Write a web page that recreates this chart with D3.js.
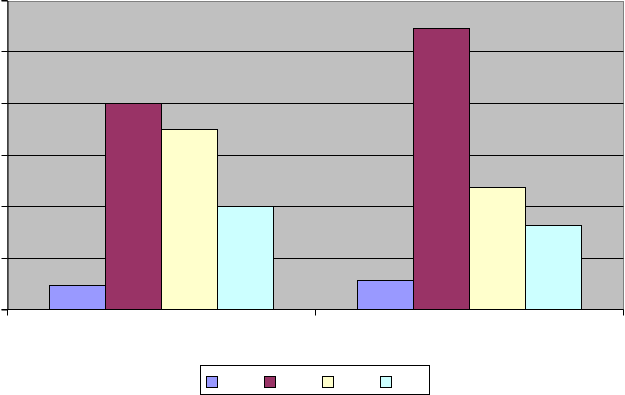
<!DOCTYPE html>
<html>
<head>
<meta charset="utf-8">
<script src="https://cdn.jsdelivr.net/npm/d3@7"></script>
<style>
  body { margin: 0; background: #fff; }
  svg { display: block; font-family: "Liberation Sans", Arial, sans-serif; }
</style>
</head>
<body>
<svg width="625" height="395"></svg>
<script>
// categories and series (labels are blank in the source chart)
var categories = ["A", "B"];
var seriesNames = ["s1", "s2", "s3", "s4"];
var seriesColors = ["#9999FF", "#993366", "#FFFFCC", "#CCFFFF"];
var seriesValues = [
  [0.46, 0.56],
  [4.0, 5.46],
  [3.5, 2.37],
  [2.0, 1.63]
];
var yTicks = [0, 1, 2, 3, 4, 5, 6];

var svg = d3.select("svg");

var plot = {left: 7.5, right: 623.5, top: 0.5, bottom: 309.5};

var x0 = d3.scaleBand()
    .domain(categories)
    .range([plot.left, plot.right])
    .padding(0);

var x1 = d3.scaleBand()
    .domain(d3.range(seriesNames.length))
    .range([0, x0.bandwidth()])
    .paddingInner(0)
    .paddingOuter(0.75);

var y = d3.scaleLinear()
    .domain([0, 6])
    .range([plot.bottom, plot.top]);

function py(v) { return Math.floor(y(v)) + 0.5; }

// plot area
svg.append("rect")
    .attr("x", plot.left)
    .attr("y", plot.top + 1)
    .attr("width", plot.right - plot.left)
    .attr("height", plot.bottom - plot.top - 1)
    .attr("fill", "#C0C0C0")
    .attr("stroke", "#808080")
    .attr("stroke-width", 1);

// gridlines
svg.append("g")
  .selectAll("line")
  .data(yTicks.slice(1, -1))
  .join("line")
    .attr("x1", plot.left)
    .attr("x2", plot.right)
    .attr("y1", function(d) { return py(d); })
    .attr("y2", function(d) { return py(d); })
    .attr("stroke", "#000")
    .attr("stroke-width", 1);

// bars
var groups = svg.append("g")
  .selectAll("g")
  .data(categories)
  .join("g")
    .attr("transform", function(d) { return "translate(" + x0(d) + ",0)"; });

groups.selectAll("rect")
  .data(function(c, ci) {
    return seriesValues.map(function(vals, si) { return {s: si, v: vals[ci]}; });
  })
  .join("rect")
    .attr("x", function(d) { return x1(d.s); })
    .attr("y", function(d) { return py(d.v); })
    .attr("width", x1.bandwidth())
    .attr("height", function(d) { return plot.bottom - py(d.v); })
    .attr("fill", function(d) { return seriesColors[d.s]; })
    .attr("stroke", "#000")
    .attr("stroke-width", 1);

// y axis
var yAxis = d3.axisLeft(y)
    .tickValues(yTicks)
    .tickSize(6)
    .tickFormat("");
svg.append("g")
    .attr("transform", "translate(" + plot.left + ",0)")
    .call(yAxis)
    .call(function(g) {
      g.select(".domain").attr("stroke", "#000");
      g.selectAll(".tick").attr("transform", function(d) { return "translate(0," + py(d) + ")"; });
      g.selectAll(".tick line").attr("stroke", "#000");
    });

// x axis, ticks at category boundaries
var xEdges = categories.map(function(c) { return x0(c); }).concat([plot.right]);
svg.append("line")
    .attr("x1", plot.left).attr("x2", plot.right)
    .attr("y1", plot.bottom).attr("y2", plot.bottom)
    .attr("stroke", "#000");
svg.append("g")
  .selectAll("line")
  .data(xEdges)
  .join("line")
    .attr("x1", function(d) { return d; })
    .attr("x2", function(d) { return d; })
    .attr("y1", plot.bottom)
    .attr("y2", plot.bottom + 6)
    .attr("stroke", "#000");

// legend
var legend = svg.append("g");
legend.append("rect")
    .attr("x", 200.5).attr("y", 365.5)
    .attr("width", 229).attr("height", 29)
    .attr("fill", "#fff")
    .attr("stroke", "#000");

var legendX = d3.scalePoint()
    .domain(d3.range(seriesNames.length))
    .range([206.5, 380.5]);

legend.selectAll("rect.key")
  .data(seriesNames)
  .join("rect")
    .attr("class", "key")
    .attr("x", function(d, i) { return legendX(i); })
    .attr("y", 376.5)
    .attr("width", 11)
    .attr("height", 11)
    .attr("fill", function(d, i) { return seriesColors[i]; })
    .attr("stroke", "#000");
</script>
</body>
</html>
